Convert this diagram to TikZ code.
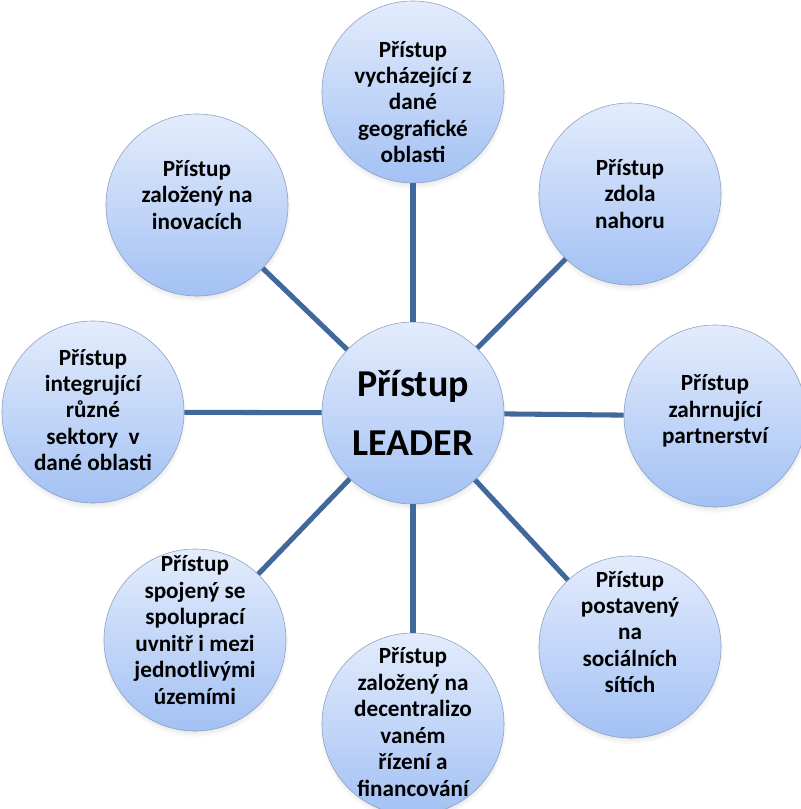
\documentclass[tikz,border=0pt]{standalone}
\usepackage{fontspec}
\setmainfont{Carlito}
\usetikzlibrary{shadows}

\definecolor{spokeblue}{HTML}{41689A}
\definecolor{bubbletop}{HTML}{E3ECFC}
\definecolor{bubblebot}{HTML}{A3C1F4}
\definecolor{bubbleedge}{HTML}{8C9FBC}

\tikzset{
  bubble/.style={circle, draw=bubbleedge, thin, top color=bubbletop, bottom color=bubblebot,
    minimum size=4.55cm, inner sep=0pt,
    circular drop shadow={shadow xshift=0pt, shadow yshift=-2.5pt, shadow scale=1.03, opacity=0.35}},
  bubbletext/.style={align=center, inner sep=0pt, font=\bfseries\fontsize{16.5}{18.8}\selectfont},
  hubtext/.style={align=center, font=\bfseries\fontsize{27}{42}\selectfont},
  link/.style={draw=spokeblue, line width=3.6pt}
}

\begin{document}
\begin{tikzpicture}[x=0.025cm, y=-0.025cm]
  % 1. okraje obrazku
  \clip (0,0) rectangle (801,809);

  % 2. stred a kruhy kolem
  \node[bubble, hubtext] (hub) at (413,413) {Přístup\\LEADER};
  \node[bubble] (top) at (413,92) {};
  \node[bubble] (topright) at (630,194) {};
  \node[bubble] (right) at (715,416) {};
  \node[bubble] (botright) at (630,647) {};
  \node[bubble] (bot) at (413,724) {};
  \node[bubble] (botleft) at (195,640) {};
  \node[bubble] (left) at (93,412) {};
  \node[bubble] (topleft) at (197,205) {};

  % 3. spojnice
  \draw[link] (hub) -- (top);
  \draw[link] (hub) -- (topright);
  \draw[link] (hub) -- (right);
  \draw[link] (hub) -- (botright);
  \draw[link] (hub) -- (bot);
  \draw[link] (hub) -- (botleft);
  \draw[link] (hub) -- (left);
  \draw[link] (hub) -- (topleft);

  % 4. popisky
  \node[bubbletext] (top-t) at (413,102) {Přístup\\vycházející z\\dané\\geografické\\oblasti};
  \node[bubbletext] (topright-t) at (630,194) {Přístup\\zdola\\nahoru};
  \node[bubbletext] (right-t) at (715,411) {Přístup\\zahrnující\\partnerství};
  \node[bubbletext] (botright-t) at (630,632) {Přístup\\postavený\\na\\sociálních\\sítích};
  \node[bubbletext] (bot-t) at (413,722) {Přístup\\založený na\\decentralizo\\vaném\\řízení a\\financování};
  \node[bubbletext] (botleft-t) at (195,630) {Přístup\\spojený se\\spoluprací\\uvnitř i mezi\\jednotlivými\\územími};
  \node[bubbletext] (left-t) at (93,410) {Přístup\\integrující\\různé\\sektory~ v\\dané oblasti};
  \node[bubbletext] (topleft-t) at (197,195) {Přístup\\založený na\\inovacích};
\end{tikzpicture}
\end{document}
